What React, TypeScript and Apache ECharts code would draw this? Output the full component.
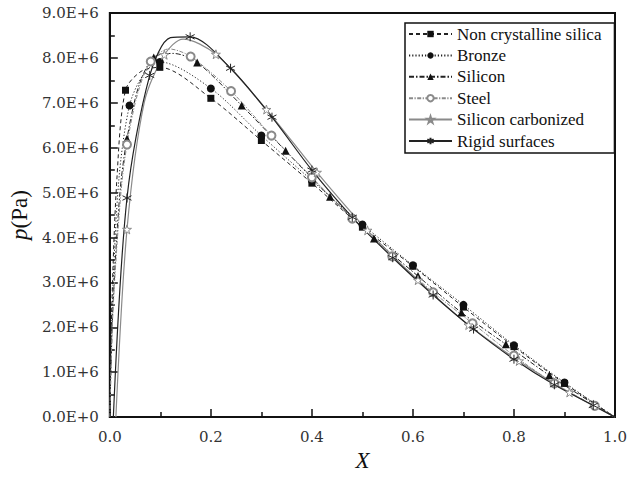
import { useEffect, useRef } from "react";
import * as echarts from "echarts";

// Each point: [X, p in Pa, 1 = draw a marker / 0 = curve point only]
type Pt = [number, number, number];

const seriesNames = [
  "Non crystalline silica",
  "Bronze",
  "Silicon",
  "Steel",
  "Silicon carbonized",
  "Rigid surfaces",
];

const nonCrystallineSilica: Pt[] = [
  [0, 0, 0], [0.004, 2.5e6, 0], [0.014, 5.3e6, 0], [0.031, 7.28e6, 1],
  [0.062, 7.7e6, 0], [0.099, 7.79e6, 1], [0.2, 7.1e6, 1], [0.3, 6.16e6, 1],
  [0.4, 5.21e6, 1], [0.5, 4.23e6, 1], [0.6, 3.36e6, 1], [0.7, 2.45e6, 1],
  [0.8, 1.57e6, 1], [0.9, 0.75e6, 1], [1.0, 0, 0],
];

const bronze: Pt[] = [
  [0, 0, 0], [0.005, 2.5e6, 0], [0.018, 5.3e6, 0], [0.039, 6.94e6, 1],
  [0.066, 7.62e6, 0], [0.099, 7.91e6, 1], [0.2, 7.32e6, 1], [0.3, 6.27e6, 1],
  [0.4, 5.27e6, 1], [0.5, 4.29e6, 1], [0.6, 3.38e6, 1], [0.7, 2.5e6, 1],
  [0.8, 1.6e6, 1], [0.9, 0.77e6, 1], [1.0, 0, 0],
];

const silicon: Pt[] = [
  [0, 0, 0], [0.006, 2.4e6, 0], [0.02, 5.0e6, 0], [0.034, 6.2e6, 1],
  [0.058, 7.4e6, 0], [0.087, 8.01e6, 1], [0.125, 8.1e6, 0], [0.173, 7.9e6, 1],
  [0.261, 6.94e6, 1], [0.348, 5.93e6, 1], [0.436, 4.91e6, 1], [0.523, 3.98e6, 1],
  [0.61, 3.14e6, 1], [0.696, 2.33e6, 1], [0.784, 1.62e6, 1], [0.87, 0.93e6, 1],
  [0.957, 0.3e6, 1], [1.0, 0, 0],
];

const steel: Pt[] = [
  [0, 0, 0], [0.006, 2.3e6, 0], [0.022, 5.0e6, 0], [0.034, 6.07e6, 1],
  [0.055, 7.2e6, 0], [0.081, 7.92e6, 1], [0.117, 8.2e6, 0], [0.16, 8.03e6, 1],
  [0.24, 7.26e6, 1], [0.32, 6.27e6, 1], [0.4, 5.34e6, 1], [0.48, 4.42e6, 1],
  [0.559, 3.58e6, 1], [0.64, 2.78e6, 1], [0.718, 2.09e6, 1], [0.8, 1.37e6, 1],
  [0.88, 0.75e6, 1], [0.96, 0.25e6, 1], [1.0, 0, 0],
];

const siliconCarbonized: Pt[] = [
  [0.012, 0, 0], [0.034, 4.18e6, 1], [0.068, 7.0e6, 0], [0.108, 8.07e6, 1],
  [0.145, 8.42e6, 0], [0.21, 8.08e6, 1], [0.31, 6.85e6, 1], [0.41, 5.45e6, 1],
  [0.51, 4.16e6, 1], [0.61, 3.05e6, 1], [0.71, 2.05e6, 1], [0.81, 1.25e6, 1],
  [0.91, 0.55e6, 1], [1.0, 0, 0],
];

const rigidSurfaces: Pt[] = [
  [0.007, 0, 0], [0.034, 4.88e6, 1], [0.079, 7.61e6, 1], [0.12, 8.45e6, 0],
  [0.159, 8.47e6, 1], [0.239, 7.77e6, 1], [0.321, 6.68e6, 1], [0.4, 5.5e6, 1],
  [0.48, 4.45e6, 1], [0.56, 3.55e6, 1], [0.64, 2.72e6, 1], [0.72, 1.96e6, 1],
  [0.8, 1.29e6, 1], [0.88, 0.72e6, 1], [0.957, 0.26e6, 1], [1.0, 0, 0],
];

const xTickLabels = ["0.0", "0.1", "0.2", "0.3", "0.4", "0.5", "0.6", "0.7", "0.8", "0.9", "1.0"];
const yTickLabels = [
  "0.0E+0", "1.0E+6", "2.0E+6", "3.0E+6", "4.0E+6",
  "5.0E+6", "6.0E+6", "7.0E+6", "8.0E+6", "9.0E+6",
];

const ASTERISK = "path://M5,0L5,10M0.67,2.5L9.33,7.5M0.67,7.5L9.33,2.5";
const STAR =
  "path://M5,0L6.18,3.6L10,3.62L6.9,5.9L8.09,9.5L5,7.3L1.91,9.5L3.1,5.9L0,3.62L3.82,3.6Z";

const SERIF = "DejaVu Serif";
const TIMES = "Liberation Serif";

function toData(pts: Pt[]) {
  return pts.map(([x, p, m]) =>
    m ? [x, p] : { value: [x, p], symbol: "none" }
  );
}

export default function App() {
  const ref = useRef<HTMLDivElement>(null);

  useEffect(() => {
    if (!ref.current) return;
    const chart = echarts.init(ref.current, null, { renderer: "svg" });

    const base = {
      type: "line" as const,
      smooth: 0.3,
      showSymbol: true,
      showAllSymbol: true,
      z: 3,
    };

    const series = [
      {
        ...base,
        name: seriesNames[0],
        data: toData(nonCrystallineSilica),
        symbol: "rect",
        symbolSize: 7,
        itemStyle: { color: "#111" },
        lineStyle: { color: "#222", width: 1, type: [4, 3] },
      },
      {
        ...base,
        name: seriesNames[1],
        data: toData(bronze),
        symbol: "circle",
        symbolSize: 8,
        itemStyle: { color: "#111" },
        lineStyle: { color: "#222", width: 1, type: [1.2, 2] },
      },
      {
        ...base,
        name: seriesNames[2],
        data: toData(silicon),
        symbol: "triangle",
        symbolSize: 8,
        itemStyle: { color: "#111" },
        lineStyle: { color: "#222", width: 1, type: [5, 2, 1.5, 2] },
      },
      {
        ...base,
        name: seriesNames[3],
        data: toData(steel),
        symbol: "emptyCircle",
        symbolSize: 8,
        itemStyle: { color: "#8a8a8a", borderWidth: 1 },
        lineStyle: { color: "#8a8a8a", width: 1, type: [4, 1.5, 1.2, 1.5] },
      },
      {
        ...base,
        name: seriesNames[4],
        data: toData(siliconCarbonized),
        symbol: STAR,
        symbolSize: 9,
        itemStyle: { color: "#fff", borderColor: "#8a8a8a", borderWidth: 1 },
        lineStyle: { color: "#8a8a8a", width: 1.2, type: "solid" },
      },
      {
        ...base,
        name: seriesNames[5],
        data: toData(rigidSurfaces),
        symbol: ASTERISK,
        symbolSize: 9,
        itemStyle: { color: "#222", borderColor: "#222", borderWidth: 1 },
        lineStyle: { color: "#222", width: 1.2, type: "solid" },
      },
    ];

    chart.setOption({
      animation: false,
      backgroundColor: "#fff",
      grid: {
        left: 101,
        right: 15,
        top: 13,
        bottom: 51,
        show: true,
        borderColor: "#111",
        borderWidth: 2,
        backgroundColor: "transparent",
      },
      legend: {
        left: 405,
        top: 23,
        orient: "vertical",
        data: seriesNames,
        itemWidth: 43,
        itemHeight: 8,
        itemGap: 3.4,
        padding: [2, 13, 3, 3],
        backgroundColor: "#fff",
        borderColor: "#111",
        borderWidth: 1.5,
        borderRadius: 0,
        textStyle: {
          fontFamily: TIMES,
          fontSize: 17,
          lineHeight: 18,
          color: "#111",
        },
      },
      xAxis: {
        type: "value",
        min: 0,
        max: 1,
        interval: 0.2,
        name: "X",
        nameLocation: "middle",
        nameGap: 27,
        nameTextStyle: {
          fontFamily: TIMES,
          fontStyle: "italic",
          fontSize: 23,
          color: "#111",
        },
        axisLine: { show: true, lineStyle: { color: "#111", width: 2 } },
        axisTick: { show: true, inside: true, length: 8, lineStyle: { color: "#111", width: 1.5 } },
        minorTick: { show: true, splitNumber: 2, length: 5, lineStyle: { color: "#111", width: 1.5 } },
        splitLine: { show: false },
        axisLabel: {
          margin: 12,
          fontFamily: SERIF,
          fontSize: 15,
          color: "#333",
          formatter: (v: number) => xTickLabels[Math.round(v * 10)],
        },
      },
      yAxis: {
        type: "value",
        min: 0,
        max: 9e6,
        interval: 1e6,
        name: "{i|p}(Pa)",
        nameLocation: "middle",
        nameGap: 76,
        nameRotate: 90,
        nameTextStyle: {
          fontFamily: TIMES,
          fontSize: 23,
          color: "#111",
          rich: {
            i: { fontFamily: TIMES, fontSize: 23, fontStyle: "italic", color: "#111" },
          },
        },
        axisLine: { show: true, lineStyle: { color: "#111", width: 2 } },
        axisTick: { show: true, inside: true, length: 8, lineStyle: { color: "#111", width: 1.5 } },
        minorTick: { show: true, splitNumber: 2, length: 5, lineStyle: { color: "#111", width: 1.5 } },
        splitLine: { show: false },
        axisLabel: {
          margin: 11,
          fontFamily: SERIF,
          fontSize: 15,
          color: "#333",
          formatter: (v: number) => yTickLabels[Math.round(v / 1e6)],
        },
      },
      series,
    });

    return () => chart.dispose();
  }, []);

  return (
    <div
      ref={ref}
      style={{ position: "absolute", left: 0, top: 0, width: 630, height: 477 }}
    />
  );
}
